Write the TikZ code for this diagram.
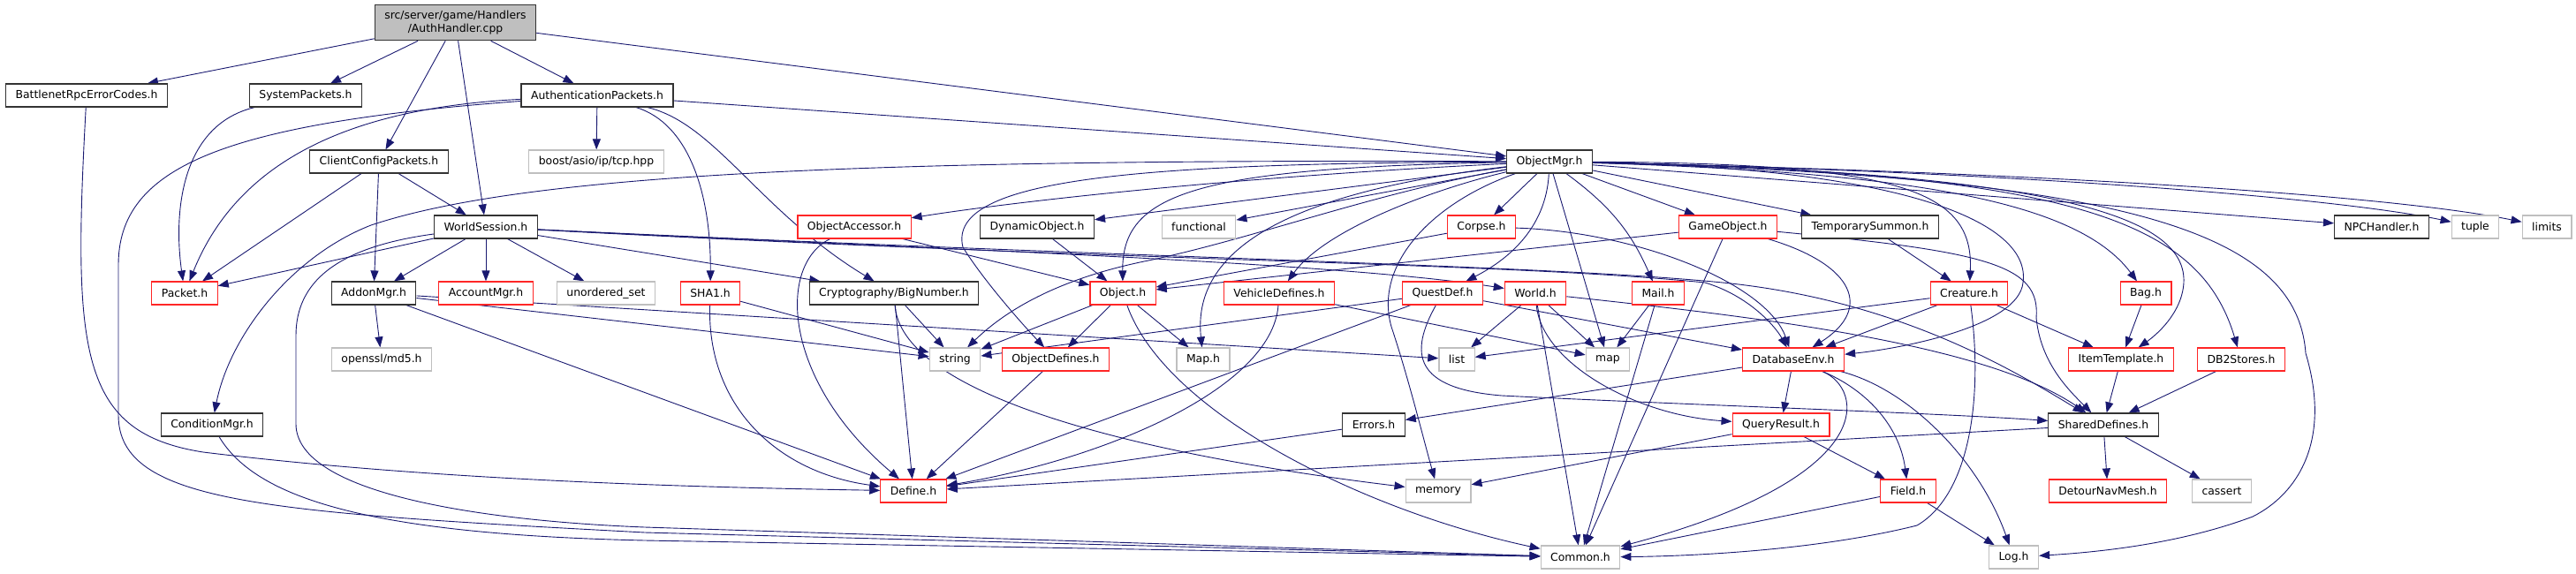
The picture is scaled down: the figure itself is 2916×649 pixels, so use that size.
\documentclass[tikz,border=0pt]{standalone}
\usepackage{fontspec}
\setmainfont{DejaVu Sans}
\usetikzlibrary{arrows.meta,backgrounds}
\definecolor{midnight}{HTML}{191970}
\definecolor{lgray}{HTML}{BFBFBF}

\begin{document}
\begin{tikzpicture}[x=1pt,y=-1pt]
\tikzstyle{every node}=[font=\fontsize{12.4}{15}\selectfont,inner xsep=11pt,inner ysep=0pt,minimum height=26pt,line width=1.2pt,fill=white];
\tikzstyle{hdr}=[draw=black!80];
\tikzstyle{hdrred}=[draw=red!85!white];
\tikzstyle{sys}=[draw=lgray];
\tikzstyle{root}=[draw=black!80,fill=lgray,align=center,minimum height=40pt];
\tikzstyle{inc}=[draw=midnight,line width=0.9pt,-{Triangle[length=12pt,width=9pt]}];
\useasboundingbox (0,0) rectangle (2916,649);

% files
\node[root] (auth) at (515.5,25.7) {src/server/game/Handlers\\/AuthHandler.cpp};
\node[hdr] (battle) at (98,108) {BattlenetRpcErrorCodes.h};
\node[hdr] (syspk) at (346,108) {SystemPackets.h};
\node[hdr] (authpk) at (676,108) {AuthenticationPackets.h};
\node[hdr] (clientcfg) at (429,183) {ClientConfigPackets.h};
\node[sys] (tcp) at (675,183) {boost/asio/ip/tcp.hpp};
\node[hdr] (objmgr) at (1754,183) {ObjectMgr.h};
\node[hdr] (worldsess) at (550,257) {WorldSession.h};
\node[hdrred] (objacc) at (967,257) {ObjectAccessor.h};
\node[hdr] (dynobj) at (1174,257) {DynamicObject.h};
\node[sys] (functional) at (1357,257) {functional};
\node[hdrred] (corpse) at (1677,257) {Corpse.h};
\node[hdrred] (gameobj) at (1956,257) {GameObject.h};
\node[hdr] (tempsum) at (2117,257) {TemporarySummon.h};
\node[hdr] (npch) at (2696,257) {NPCHandler.h};
\node[sys] (tuple) at (2802,257) {tuple};
\node[sys] (limits) at (2883,257) {limits};
\node[hdrred] (packet) at (209,332) {Packet.h};
\node[hdr] (addon) at (423,332) {AddonMgr.h};
\node[hdrred] (account) at (550,332) {AccountMgr.h};
\node[sys] (unordset) at (686,332) {unordered\_set};
\node[hdrred] (sha1) at (804,332) {SHA1.h};
\node[hdr] (bignum) at (1012,332) {Cryptography/BigNumber.h};
\node[hdrred] (object) at (1271,332) {Object.h};
\node[hdrred] (vehdef) at (1448,332) {VehicleDefines.h};
\node[hdrred] (questdef) at (1633,332) {QuestDef.h};
\node[hdrred] (world) at (1738,332) {World.h};
\node[hdrred] (mail) at (1877,332) {Mail.h};
\node[hdrred] (creature) at (2229,332) {Creature.h};
\node[hdrred] (bag) at (2429,332) {Bag.h};
\node[sys] (md5) at (432,407) {openssl/md5.h};
\node[sys] (string) at (1081,407) {string};
\node[hdrred] (objdef) at (1195,407) {ObjectDefines.h};
\node[sys] (maph) at (1362,407) {Map.h};
\node[sys] (list) at (1649,407) {list};
\node[sys] (map) at (1820,407) {map};
\node[hdrred] (dbenv) at (2030,407) {DatabaseEnv.h};
\node[hdrred] (itemtpl) at (2401,407) {ItemTemplate.h};
\node[hdrred] (db2) at (2537,407) {DB2Stores.h};
\node[hdr] (condmgr) at (240,481) {ConditionMgr.h};
\node[hdr] (errors) at (1555,481) {Errors.h};
\node[hdrred] (queryres) at (2016,481) {QueryResult.h};
\node[hdr] (shared) at (2381,481) {SharedDefines.h};
\node[hdrred] (define) at (1034,556) {Define.h};
\node[sys] (memory) at (1628,556) {memory};
\node[hdrred] (field) at (2160,556) {Field.h};
\node[hdrred] (detour) at (2386,556) {DetourNavMesh.h};
\node[sys] (cassert) at (2515,556) {cassert};
\node[sys] (common) at (1789,631) {Common.h};
\node[sys] (log) at (2279.5,631) {Log.h};

\begin{scope}[on background layer]
% AuthHandler.cpp
\draw[inc] (auth) -- (battle);
\draw[inc] (auth) -- (syspk);
\draw[inc] (auth) -- (clientcfg);
\draw[inc] (auth) -- (worldsess);
\draw[inc] (auth) -- (authpk);
\draw[inc] (auth) -- (objmgr);
% first row
\draw[inc] (battle) .. controls (82,400) and (90,490) .. (230,512) .. controls (500,545) and (800,552) .. (define);
\draw[inc] (syspk) .. controls (210,140) and (195,230) .. (packet);
\draw[inc] (authpk) .. controls (400,122) and (270,180) .. (packet);
\draw[inc] (authpk) .. controls (250,140) and (134,190) .. (134,300) -- (134,470) .. controls (134,570) and (300,580) .. (730,603) -- (common);
\draw[inc] (authpk) -- (tcp);
\draw[inc] (authpk) -- (objmgr);
\draw[inc] (authpk) .. controls (780,140) and (805,220) .. (sha1);
\draw[inc] (authpk) .. controls (810,140) and (860,240) .. (bignum);
\draw[inc] (clientcfg) -- (packet);
\draw[inc] (clientcfg) -- (addon);
\draw[inc] (clientcfg) -- (worldsess);
% WorldSession.h
\draw[inc] (worldsess) -- (packet);
\draw[inc] (worldsess) -- (addon);
\draw[inc] (worldsess) -- (account);
\draw[inc] (worldsess) -- (unordset);
\draw[inc] (worldsess) -- (bignum);
\draw[inc] (worldsess) .. controls (1000,280) and (1500,295) .. (world);
\draw[inc] (worldsess) .. controls (1300,297) and (1700,297) .. (1930,320) .. controls (1980,335) and (2010,370) .. (dbenv);
\draw[inc] (worldsess) .. controls (1300,293) and (1750,300) .. (1950,320) .. controls (2150,340) and (2280,420) .. (shared);
\draw[inc] (worldsess) .. controls (380,280) and (335,320) .. (335,380) -- (335,480) .. controls (335,560) and (550,590) .. (730,597) -- (common);
% ObjectMgr.h
\draw[inc] (objmgr) .. controls (1000,180) and (600,195) .. (420,255) .. controls (330,290) and (260,380) .. (condmgr);
\draw[inc] (objmgr) .. controls (1400,200) and (1150,228) .. (objacc);
\draw[inc] (objmgr) -- (dynobj);
\draw[inc] (objmgr) -- (functional);
\draw[inc] (objmgr) .. controls (1350,190) and (1270,220) .. (object);
\draw[inc] (objmgr) .. controls (1550,220) and (1420,270) .. (1300,295) .. controls (1200,315) and (1140,350) .. (string);
\draw[inc] (objmgr) .. controls (1300,185) and (1070,200) .. (1090,280) .. controls (1115,320) and (1160,370) .. (objdef);
\draw[inc] (objmgr) .. controls (1440,220) and (1350,290) .. (maph);
\draw[inc] (objmgr) .. controls (1620,215) and (1500,260) .. (vehdef);
\draw[inc] (objmgr) .. controls (1620,230) and (1555,300) .. (1575,370) .. controls (1595,430) and (1612,500) .. (memory);
\draw[inc] (objmgr) -- (corpse);
\draw[inc] (objmgr) .. controls (1750,260) and (1705,295) .. (questdef);
\draw[inc] (objmgr) -- (map);
\draw[inc] (objmgr) to[bend left=15] (mail);
\draw[inc] (objmgr) -- (gameobj);
\draw[inc] (objmgr) -- (tempsum);
\draw[inc] (objmgr) .. controls (2150,185) and (2235,215) .. (creature);
\draw[inc] (objmgr) .. controls (2150,195) and (2350,225) .. (bag);
\draw[inc] (objmgr) .. controls (2350,195) and (2475,250) .. (2472,320) .. controls (2470,355) and (2440,380) .. (itemtpl);
\draw[inc] (objmgr) .. controls (2350,195) and (2490,250) .. (db2);
\draw[inc] (objmgr) .. controls (2400,200) and (2600,260) .. (2610,400) .. controls (2640,500) and (2600,560) .. (2550,585) .. controls (2470,615) and (2380,625) .. (log);
\draw[inc] (objmgr) .. controls (2150,190) and (2300,250) .. (2290,320) .. controls (2285,370) and (2150,395) .. (dbenv);
\draw[inc] (objmgr) -- (npch);
\draw[inc] (objmgr) .. controls (2300,195) and (2650,225) .. (tuple);
\draw[inc] (objmgr) .. controls (2300,195) and (2700,220) .. (limits);
% third row
\draw[inc] (objacc) -- (object);
\draw[inc] (objacc) .. controls (880,300) and (885,430) .. (define);
\draw[inc] (dynobj) -- (object);
\draw[inc] (corpse) -- (object);
\draw[inc] (corpse) .. controls (1850,262) and (2000,320) .. (dbenv);
\draw[inc] (gameobj) -- (object);
\draw[inc] (gameobj) -- (common);
\draw[inc] (gameobj) .. controls (2100,300) and (2120,350) .. (dbenv);
\draw[inc] (gameobj) .. controls (2250,285) and (2310,300) .. (2305,360) .. controls (2310,410) and (2340,440) .. (shared);
\draw[inc] (tempsum) -- (creature);
% fourth row
\draw[inc] (addon) -- (md5);
\draw[inc] (addon) -- (define);
\draw[inc] (addon) -- (string);
\draw[inc] (addon) -- (list);
\draw[inc] (sha1) -- (string);
\draw[inc] (sha1) .. controls (800,460) and (880,535) .. (define);
\draw[inc] (bignum) -- (string);
\draw[inc] (bignum) -- (define);
\draw[inc] (bignum) .. controls (1020,440) and (1250,510) .. (memory);
\draw[inc] (object) -- (string);
\draw[inc] (object) -- (objdef);
\draw[inc] (object) -- (maph);
\draw[inc] (object) .. controls (1320,470) and (1550,580) .. (common);
\draw[inc] (vehdef) .. controls (1440,440) and (1250,520) .. (define);
\draw[inc] (vehdef) -- (map);
\draw[inc] (questdef) -- (string);
\draw[inc] (questdef) -- (define);
\draw[inc] (questdef) .. controls (1595,400) and (1600,440) .. (1700,448) .. controls (1900,458) and (2200,468) .. (shared);
\draw[inc] (questdef) -- (dbenv);
\draw[inc] (world) -- (list);
\draw[inc] (world) -- (map);
\draw[inc] (world) -- (common);
\draw[inc] (world) .. controls (1745,410) and (1850,470) .. (queryres);
\draw[inc] (world) .. controls (2000,360) and (2250,390) .. (shared);
\draw[inc] (mail) -- (map);
\draw[inc] (mail) -- (common);
\draw[inc] (creature) -- (dbenv);
\draw[inc] (creature) -- (list);
\draw[inc] (creature) -- (itemtpl);
\draw[inc] (creature) .. controls (2245,450) and (2230,560) .. (2170,595) .. controls (2050,625) and (1900,630) .. (common);
\draw[inc] (bag) -- (itemtpl);
% fifth row and below
\draw[inc] (objdef) -- (define);
\draw[inc] (dbenv) -- (errors);
\draw[inc] (dbenv) -- (queryres);
\draw[inc] (dbenv) .. controls (2110,440) and (2130,540) .. (common);
\draw[inc] (dbenv) .. controls (2110,440) and (2150,480) .. (field);
\draw[inc] (dbenv) .. controls (2160,440) and (2240,520) .. (log);
\draw[inc] (itemtpl) -- (shared);
\draw[inc] (db2) -- (shared);
\draw[inc] (condmgr) .. controls (290,565) and (420,605) .. (730,612) -- (common);
\draw[inc] (errors) -- (define);
\draw[inc] (queryres) -- (memory);
\draw[inc] (queryres) -- (field);
\draw[inc] (shared) -- (define);
\draw[inc] (shared) -- (detour);
\draw[inc] (shared) -- (cassert);
\draw[inc] (field) -- (common);
\draw[inc] (field) -- (log);
\end{scope}
\end{tikzpicture}
\end{document}
